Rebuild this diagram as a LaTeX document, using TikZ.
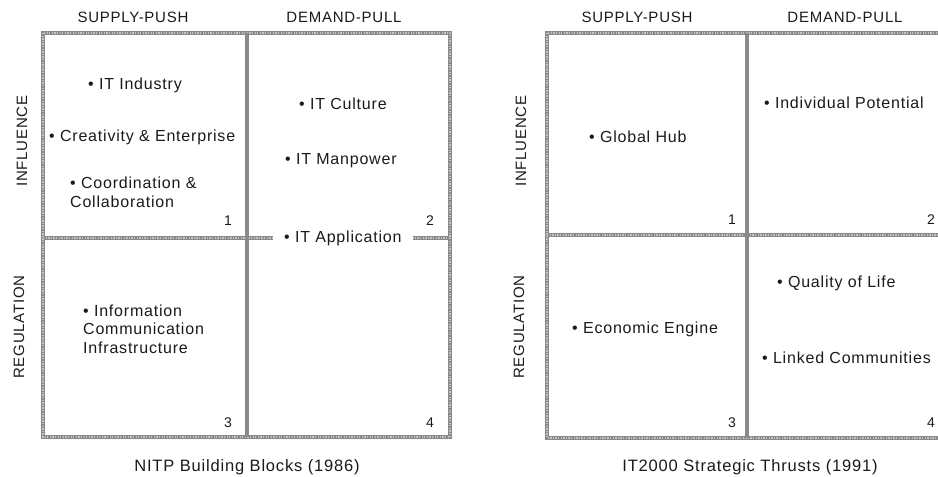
\documentclass[tikz,border=0pt]{standalone}
\usepackage{fontspec}
\setmainfont{Liberation Sans}[LetterSpace=5]
\usepackage{xcolor}
\usetikzlibrary{positioning,calc}
\definecolor{ink}{HTML}{1A1A1A}
\definecolor{frame}{HTML}{8A8A8A}
\definecolor{framelight}{HTML}{C4C4C4}
\newcommand{\itembullet}{\textbullet\ }
\tikzset{
  font=\fontsize{16}{19}\selectfont,
  border/.style={
    draw=frame,
    line width=4pt
  },
  bordertex/.style={
    draw=framelight,
    line width=1.3pt,
    dash pattern=on 1.3pt off 1.3pt
  },
  midline/.style={
    draw=frame,
    line width=4pt
  },
  head/.style={
    text=ink,
    font=\fontsize{15}{18}\selectfont
  },
  side/.style={
    head,
    rotate=90
  },
  entry/.style={
    text=ink,
    anchor=west,
    align=left,
    inner sep=1pt,
    font=\fontsize{16}{18.5}\selectfont
  },
  quadnum/.style={
    text=ink,
    font=\fontsize{14}{16}\selectfont
  },
  caption/.style={
    text=ink,
    font=\fontsize{16.5}{19}\selectfont
  }
}

\begin{document}
\begin{tikzpicture}[x=1pt, y=-1pt]
\useasboundingbox (0,0) rectangle (938,477);

% NITP panel (left)
\coordinate (lnw) at (43,33);
\coordinate (lse) at (450,437);
\coordinate (lmid) at (247,238);

\draw[border] (lnw) rectangle (lse);
\draw[border] (lnw |- lmid) -- (lse |- lmid);
\draw[bordertex] (lnw) rectangle (lse);
\draw[bordertex] (lnw |- lmid) -- (lse |- lmid);
\draw[midline] (lnw -| lmid) -- (lse -| lmid);

\node[head] (lsupply) at (133,17) {SUPPLY-PUSH};
\node[head] (ldemand) at (344,17) {DEMAND-PULL};
\node[side] (linfl) at (22,141) {INFLUENCE};
\node[side] (lreg) at (19,327) {REGULATION};

\node[entry] (industry) at (87,85) {\itembullet IT Industry};
\node[entry] (creativity) at (48,137) {\itembullet Creativity \& Enterprise};
\node[entry] (coord) at (69,192.5) {\itembullet Coordination \&\\Collaboration};
\node[entry] (culture) at (298,104) {\itembullet IT Culture};
\node[entry] (manpower) at (284,161) {\itembullet IT Manpower};
\node[entry, fill=white, inner xsep=11pt] (application) at (273,238) {\itembullet IT Application};
\node[entry] (infocomm) at (82,329) {\itembullet Information\\Communication\\Infrastructure};

\node[quadnum] (lq1) at (228,221) {1};
\node[quadnum] (lq2) at (430,221) {2};
\node[quadnum] (lq3) at (228,423) {3};
\node[quadnum] (lq4) at (430,423) {4};

\node[caption] (lcap) at (247,467) {NITP Building Blocks (1986)};

% IT2000 panel (right); its right edge falls just outside the page
\coordinate (rnw) at (547,33);
\coordinate (rse) at (944,438);
\coordinate (rmid) at (747,235);

\draw[border] (rnw) rectangle (rse);
\draw[border] (rnw |- rmid) -- (rse |- rmid);
\draw[bordertex] (rnw) rectangle (rse);
\draw[bordertex] (rnw |- rmid) -- (rse |- rmid);
\draw[midline] (rnw -| rmid) -- (rse -| rmid);

\node[head] (rsupply) at (637,17) {SUPPLY-PUSH};
\node[head] (rdemand) at (845,17) {DEMAND-PULL};
\node[side] (rinfl) at (521,141) {INFLUENCE};
\node[side] (rreg) at (519,327) {REGULATION};

\node[entry] (globalhub) at (588,137) {\itembullet Global Hub};
\node[entry] (potential) at (763,103) {\itembullet Individual Potential};
\node[entry] (engine) at (571,329) {\itembullet Economic Engine};
\node[entry] (quality) at (776,283) {\itembullet Quality of Life};
\node[entry] (linked) at (761,358) {\itembullet Linked Communities};

\node[quadnum] (rq1) at (732,220) {1};
\node[quadnum] (rq2) at (931,220) {2};
\node[quadnum] (rq3) at (732,423) {3};
\node[quadnum] (rq4) at (931,423) {4};

\node[caption] (rcap) at (750,467) {IT2000 Strategic Thrusts (1991)};

\end{tikzpicture}
\end{document}
